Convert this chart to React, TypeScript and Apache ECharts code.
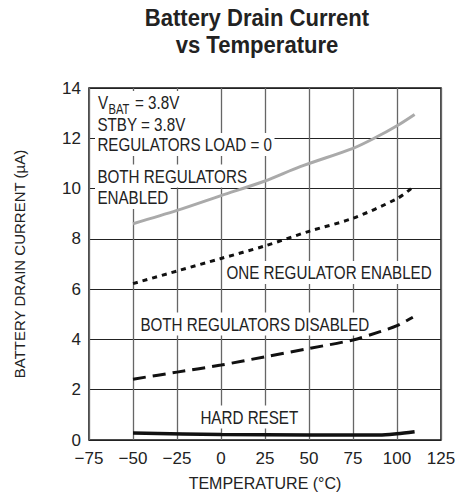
import React, { useEffect, useRef } from "react";
import * as echarts from "echarts";

const FONT = "'Liberation Sans', Arial, sans-serif";
const SX = 0.8;

const xTicks = { min: -75, max: 125, interval: 25 };
const yTicks = { min: 0, max: 14, interval: 2 };

const bothEnabledT = [-50, -25, 0, 25, 45, 75, 87, 100, 110];
const bothEnabledV = [8.6, 9.13, 9.72, 10.3, 10.87, 11.6, 12.0, 12.5, 12.95];

const oneEnabledT = [-50, -25, 0, 25, 50, 75, 100, 108];
const oneEnabledV = [6.22, 6.72, 7.22, 7.72, 8.3, 8.82, 9.6, 10.0];

const bothDisabledT = [-50, -25, 0, 25, 50, 75, 90, 100, 109];
const bothDisabledV = [2.42, 2.7, 2.98, 3.31, 3.64, 3.98, 4.3, 4.55, 4.88];

const hardResetT = [-50, 0, 50, 90, 100, 110];
const hardResetV = [0.28, 0.22, 0.2, 0.2, 0.25, 0.33];

const pairs = (t: number[], v: number[]) => t.map((x, i) => [x, v[i]]);

export default function App() {
  const ref = useRef<HTMLDivElement>(null);
  useEffect(() => {
    const chart = echarts.init(ref.current!, null, { renderer: "svg" });
    const label = (text: string, x: number, y: number) => ({
      type: "text",
      x,
      y,
      z: 1,
      scaleX: SX,
      style: {
        text,
        font: `19px ${FONT}`,
        fill: "#222",
        verticalAlign: "middle",
        align: "left",
        backgroundColor: "#fff",
        padding: [2, 3, 2, 3],
      },
    });
    const plain = (text: string, x: number, y: number, size: number) => ({
      type: "text",
      x,
      y,
      z: 2,
      scaleX: SX,
      style: {
        text,
        font: `${size}px ${FONT}`,
        fill: "#222",
        verticalAlign: "middle",
        align: "left",
      },
    });
    chart.setOption({
      animation: false,
      backgroundColor: "#fff",
      grid: {
        left: 89,
        top: 88,
        right: 24,
        bottom: 61,
        show: true,
        borderColor: "#111",
        borderWidth: 1.5,
      },
      xAxis: {
        type: "value",
        min: xTicks.min,
        max: xTicks.max,
        interval: xTicks.interval,
        name: "TEMPERATURE (°C)",
        nameLocation: "middle",
        nameGap: 35,
        nameTextStyle: { fontFamily: FONT, fontSize: 16, color: "#222" },
        axisLine: { show: false },
        axisTick: { show: false },
        axisLabel: {
          margin: 10,
          fontFamily: FONT,
          fontSize: 17,
          color: "#222",
          formatter: (v: number) => String(v).replace("-", "\u2212"),
        },
        splitLine: { show: true, lineStyle: { color: "#666", width: 1.3 } },
      },
      yAxis: {
        type: "value",
        min: yTicks.min,
        max: yTicks.max,
        interval: yTicks.interval,
        name: "BATTERY DRAIN CURRENT (µA)",
        nameLocation: "middle",
        nameGap: 62,
        nameTextStyle: { fontFamily: FONT, fontSize: 15, color: "#222" },
        axisLine: { show: false },
        axisTick: { show: false },
        axisLabel: { margin: 8, fontFamily: FONT, fontSize: 17, color: "#222" },
        splitLine: { show: true, lineStyle: { color: "#222", width: 1.2 } },
      },
      graphic: [
        {
          type: "text",
          x: 257,
          y: 4,
          scaleX: 0.92,
          style: {
            text: "Battery Drain Current\nvs Temperature",
            font: `bold 24px ${FONT}`,
            lineHeight: 27,
            fill: "#222",
            align: "center",
            verticalAlign: "top",
          },
        },
        {
          type: "rect",
          z: 1,
          shape: { x: 95, y: 91, width: 92, height: 25 },
          style: { fill: "#fff" },
        },
        plain("V", 98, 102.5, 19),
        plain("BAT", 108.5, 109.5, 14),
        plain("= 3.8V", 135, 102.5, 19),
        label("STBY = 3.8V", 95, 124),
        label("REGULATORS LOAD = 0", 95, 144.5),
        label("BOTH REGULATORS", 95, 176),
        label("ENABLED", 95, 197.5),
        label("ONE REGULATOR ENABLED", 224, 272.5),
        label("BOTH REGULATORS DISABLED", 138, 324),
        label("HARD RESET", 198, 417),
      ],
      series: [
        {
          type: "line",
          z: 3,
          smooth: 0.3,
          showSymbol: false,
          data: pairs(bothEnabledT, bothEnabledV),
          lineStyle: { color: "#aaa", width: 3, cap: "butt" },
        },
        {
          type: "line",
          z: 3,
          smooth: 0.3,
          showSymbol: false,
          data: pairs(oneEnabledT, oneEnabledV),
          lineStyle: { color: "#111", width: 3, type: [5, 5] },
        },
        {
          type: "line",
          z: 3,
          smooth: 0.3,
          showSymbol: false,
          data: pairs(bothDisabledT, bothDisabledV),
          lineStyle: { color: "#111", width: 3, type: [13, 7] },
        },
        {
          type: "line",
          z: 3,
          smooth: 0.3,
          showSymbol: false,
          data: pairs(hardResetT, hardResetV),
          lineStyle: { color: "#111", width: 3.5 },
        },
      ],
    });
    return () => chart.dispose();
  }, []);
  return <div ref={ref} style={{ width: 465, height: 501, margin: -8 }} />;
}
